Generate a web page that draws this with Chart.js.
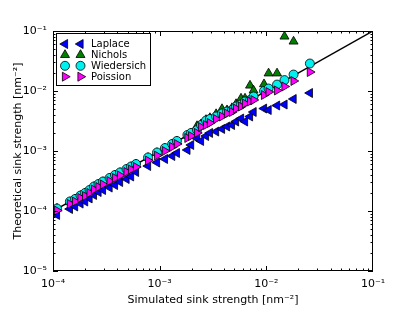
<!DOCTYPE html>
<html>
<head>
<meta charset="utf-8">
<script src="https://cdn.jsdelivr.net/npm/chart.js@4.4.0/dist/chart.umd.min.js"></script>
<style>
  html, body { margin: 0; padding: 0; background: #fff; }
</style>
</head>
<body>
<canvas id="sinkChart" width="415" height="312"></canvas>
<script>
// simulated sink strength (x), nm^-2
const simulated = [
  1.09e-4, 1.44e-4, 1.61e-4, 1.81e-4, 2.00e-4, 2.20e-4, 2.42e-4, 2.67e-4, 2.94e-4, 3.39e-4,
  3.81e-4, 4.25e-4, 4.89e-4, 5.39e-4, 6.00e-4, 7.78e-4, 9.44e-4, 1.12e-3, 1.31e-3, 1.45e-3,
  1.82e-3, 1.97e-3, 2.24e-3, 2.44e-3, 2.72e-3, 2.96e-3, 3.38e-3, 3.84e-3, 4.28e-3, 4.76e-3,
  5.20e-3, 5.79e-3, 6.31e-3, 7.03e-3, 7.59e-3, 9.51e-3, 1.05e-2, 1.26e-2, 1.48e-2, 1.80e-2,
  2.56e-2
];
// theoretical sink strengths, nm^-2
const laplace = [
  8.6e-5, 1.08e-4, 1.19e-4, 1.33e-4, 1.44e-4, 1.62e-4, 1.85e-4, 2.07e-4, 2.24e-4, 2.46e-4,
  2.71e-4, 3.04e-4, 3.41e-4, 3.76e-4, 4.47e-4, 5.62e-4, 6.43e-4, 7.36e-4, 8.25e-4, 9.26e-4,
  1.04e-3, 1.26e-3, 1.62e-3, 1.47e-3, 1.78e-3, 2.00e-3, 2.11e-3, 2.33e-3, 2.56e-3, 2.71e-3,
  3.10e-3, 3.48e-3, 3.10e-3, 3.76e-3, 4.47e-3, 5.10e-3, 4.82e-3, 5.73e-3, 5.95e-3, 7.36e-3,
  9.26e-3
];
const nichols = [
  1.10e-4, 1.41e-4, 1.57e-4, 1.79e-4, 1.97e-4, 2.20e-4, 2.52e-4, 2.77e-4, 3.05e-4, 3.50e-4,
  3.92e-4, 4.32e-4, 4.93e-4, 5.42e-4, 5.98e-4, 7.70e-4, 9.30e-4, 1.10e-3, 1.29e-3, 1.45e-3,
  1.82e-3, 1.97e-3, 2.61e-3, 2.80e-3, 3.30e-3, 3.55e-3, 4.13e-3, 5.01e-3, 4.79e-3, 5.20e-3,
  6.07e-3, 7.50e-3, 7.50e-3, 1.235e-2, 1.02e-2, 1.30e-2, 1.97e-2, 1.97e-2, 8.10e-2, 6.69e-2,
  null
];
const wiedersich = [
  1.10e-4, 1.44e-4, 1.585e-4, 1.81e-4, 2.00e-4, 2.24e-4, 2.56e-4, 2.82e-4, 3.10e-4, 3.55e-4,
  3.98e-4, 4.39e-4, 5.01e-4, 5.51e-4, 6.07e-4, 7.80e-4, 9.44e-4, 1.12e-3, 1.31e-3, 1.47e-3,
  1.85e-3, 2.00e-3, 2.24e-3, 2.71e-3, 3.22e-3, 3.41e-3, 3.76e-3, 4.22e-3, 4.55e-3, 4.82e-3,
  5.51e-3, 5.95e-3, 6.69e-3, 7.08e-3, 8.10e-3, 1.00e-2, 1.10e-2, 1.28e-2, 1.52e-2, 1.88e-2,
  2.87e-2
];
const poisson = [
  1.02e-4, 1.31e-4, 1.44e-4, 1.65e-4, 1.78e-4, 2.00e-4, 2.28e-4, 2.51e-4, 2.77e-4, 3.16e-4,
  3.55e-4, 3.91e-4, 4.47e-4, 4.92e-4, 5.41e-4, 6.94e-4, 8.40e-4, 1.00e-3, 1.17e-3, 1.31e-3,
  1.65e-3, 1.78e-3, 2.00e-3, 2.51e-3, 2.71e-3, 2.93e-3, 3.41e-3, 3.76e-3, 4.22e-3, 4.47e-3,
  5.10e-3, 5.51e-3, 6.19e-3, 6.69e-3, 7.08e-3, 8.58e-3, 9.62e-3, 1.02e-2, 1.19e-2, 1.47e-2,
  2.07e-2
];
// reference line y = x
const idealLine = [1e-4, 1e-1];

const xTickLabels = { '-4': '10⁻⁴', '-3': '10⁻³', '-2': '10⁻²', '-1': '10⁻¹' };
const yTickLabels = { '-5': '10⁻⁵', '-4': '10⁻⁴', '-3': '10⁻³', '-2': '10⁻²', '-1': '10⁻¹' };

const FONT = 'DejaVu Sans';

function toPoints(ys) {
  const pts = [];
  ys.forEach((y, i) => { if (y !== null) pts.push({ x: simulated[i], y: y }); });
  return pts;
}

function decadeLabel(map) {
  return function (value) {
    const e = Math.log10(value);
    const r = Math.round(e);
    if (Math.abs(e - r) < 1e-6 && map[String(r)]) return map[String(r)];
    return '';
  };
}

function markerPath(ctx, style, x, y, r, rot) {
  ctx.save();
  ctx.translate(x, y);
  ctx.rotate(rot * Math.PI / 180);
  ctx.beginPath();
  if (style === 'circle') {
    ctx.arc(0, 0, r, 0, Math.PI * 2);
  } else {
    for (let k = 0; k < 3; k++) {
      const a = k * 2 * Math.PI / 3;
      const px = Math.sin(a) * r, py = -Math.cos(a) * r;
      if (k === 0) ctx.moveTo(px, py); else ctx.lineTo(px, py);
    }
    ctx.closePath();
  }
  ctx.restore();
}

// frame + inward ticks on all four sides, like the original
const frameTicks = {
  id: 'frameTicks',
  afterDatasetsDraw(chart) {
    const { ctx, chartArea: a, scales } = chart;
    ctx.save();
    ctx.strokeStyle = '#000';
    ctx.lineWidth = 1;
    ctx.beginPath();
    const tick = (scale, horiz, lo, hi) => {
      for (let n = lo; n < hi; n++) {
        for (let k = 1; k <= 9; k++) {
          const v = k * Math.pow(10, n);
          const p = Math.round(scale.getPixelForValue(v)) + 0.5;
          const len = k === 1 ? 5 : 2.5;
          if (horiz) {
            ctx.moveTo(p, a.bottom); ctx.lineTo(p, a.bottom - len);
            ctx.moveTo(p, a.top); ctx.lineTo(p, a.top + len);
          } else {
            ctx.moveTo(a.left, p); ctx.lineTo(a.left + len, p);
            ctx.moveTo(a.right, p); ctx.lineTo(a.right - len, p);
          }
        }
      }
    };
    tick(scales.x, true, -4, -1);
    tick(scales.y, false, -5, -1);
    ctx.stroke();
    ctx.strokeRect(a.left + 0.5, a.top + 0.5, a.right - a.left - 1, a.bottom - a.top - 1);
    ctx.restore();
  }
};

// matplotlib-style legend with two markers per entry
const pairLegend = {
  id: 'pairLegend',
  afterDraw(chart) {
    const ctx = chart.ctx;
    const box = { x: 56.5, y: 33.5, w: 94, h: 52 };
    ctx.save();
    ctx.fillStyle = '#fff';
    ctx.fillRect(box.x, box.y, box.w, box.h);
    ctx.strokeStyle = '#000';
    ctx.lineWidth = 1;
    ctx.strokeRect(box.x, box.y, box.w, box.h);
    const items = chart.data.datasets.filter(d => d.showInLegend);
    items.forEach((d, i) => {
      const y = 44 + i * 10.9;
      [65, 80.5].forEach(x => {
        markerPath(ctx, d.pointStyle, x, y, d.pointRadius, d.pointRotation || 0);
        ctx.fillStyle = d.backgroundColor;
        ctx.fill();
        ctx.strokeStyle = '#000';
        ctx.lineWidth = 0.8;
        ctx.stroke();
      });
      ctx.fillStyle = '#000';
      ctx.font = '10px "' + FONT + '"';
      ctx.textBaseline = 'middle';
      ctx.textAlign = 'left';
      ctx.fillText(d.label, 91, y + 0.5);
    });
    ctx.restore();
  }
};

const markerBase = { borderColor: '#000', borderWidth: 0.8, showLine: false, showInLegend: true };

new Chart(document.getElementById('sinkChart'), {
  type: 'scatter',
  data: {
    datasets: [
      Object.assign({ label: 'Laplace', data: toPoints(laplace), backgroundColor: '#0000ff',
        pointStyle: 'triangle', pointRotation: -90, pointRadius: 5.2, order: 4 }, markerBase),
      Object.assign({ label: 'Nichols', data: toPoints(nichols), backgroundColor: '#007f00',
        pointStyle: 'triangle', pointRotation: 0, pointRadius: 5.2, order: 3 }, markerBase),
      Object.assign({ label: 'Wiedersich', data: toPoints(wiedersich), backgroundColor: '#00f0f0',
        pointStyle: 'circle', pointRadius: 4.5, order: 2 }, markerBase),
      Object.assign({ label: 'Poission', data: toPoints(poisson), backgroundColor: '#ff00ff',
        pointStyle: 'triangle', pointRotation: 90, pointRadius: 5.2, order: 1 }, markerBase),
      {
        label: 'y = x', type: 'line', showInLegend: false,
        data: idealLine.map(v => ({ x: v, y: v })),
        borderColor: '#000', borderWidth: 1.5, pointRadius: 0, fill: false, order: 5
      }
    ]
  },
  options: {
    responsive: false,
    animation: false,
    devicePixelRatio: 1,
    layout: { padding: { left: 0, top: 31, right: 42, bottom: 0 } },
    plugins: { legend: { display: false }, tooltip: { enabled: false } },
    scales: {
      x: {
        type: 'logarithmic', position: 'bottom', min: 1e-4, max: 1e-1,
        grid: { display: false, drawTicks: false }, border: { display: false },
        ticks: { autoSkip: false, maxRotation: 0, padding: 7, color: '#000',
          font: { family: FONT, size: 11 }, callback: decadeLabel(xTickLabels) },
        title: { display: true, text: 'Simulated sink strength [nm⁻²]', color: '#000',
          font: { family: FONT, size: 11 }, padding: { top: 0, bottom: 5 } },
        afterFit(s) { s.height = 41; }
      },
      y: {
        type: 'logarithmic', position: 'left', min: 1e-5, max: 1e-1,
        grid: { display: false, drawTicks: false }, border: { display: false },
        ticks: { autoSkip: false, padding: 6, color: '#000',
          font: { family: FONT, size: 11 }, callback: decadeLabel(yTickLabels) },
        title: { display: true, text: 'Theoretical sink strength [nm⁻²]', color: '#000',
          font: { family: FONT, size: 11 }, padding: { top: 12, bottom: 0 } },
        afterFit(s) { s.width = 53; }
      }
    }
  },
  plugins: [frameTicks, pairLegend]
});
</script>
</body>
</html>
